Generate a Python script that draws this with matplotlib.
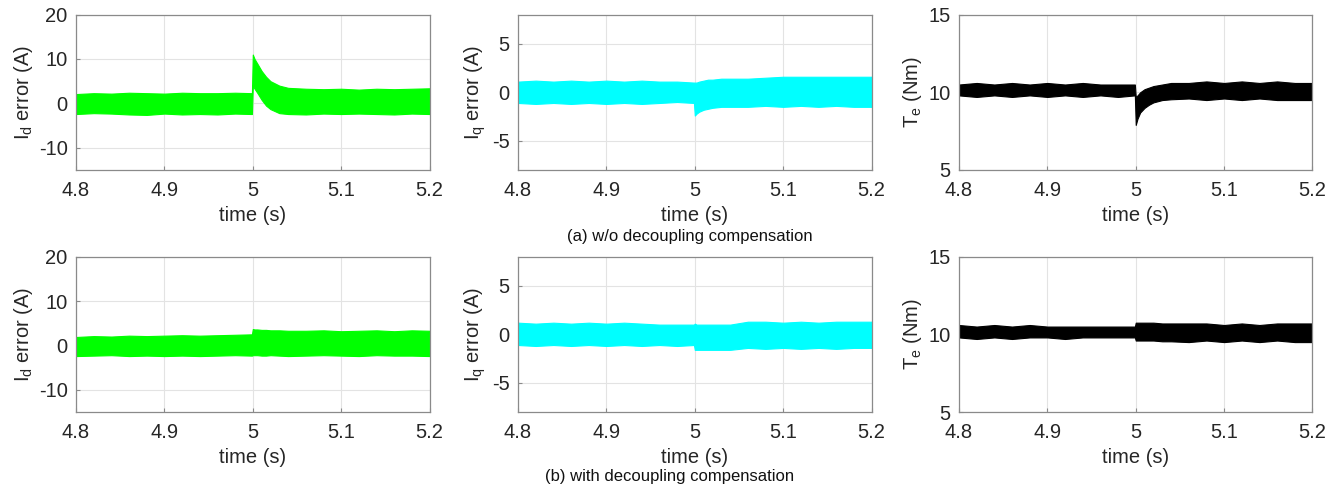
import matplotlib
matplotlib.use("Agg")
import matplotlib.pyplot as plt

plt.rcParams['font.family'] = ['Liberation Sans', 'DejaVu Sans']
plt.rcParams['mathtext.fontset'] = 'custom'
plt.rcParams['mathtext.rm'] = 'Liberation Sans'
plt.rcParams['mathtext.it'] = 'Liberation Sans'
plt.rcParams['axes.unicode_minus'] = False

# time breakpoints (s) of the band envelopes
T = [4.800, 4.820, 4.840, 4.860, 4.880, 4.900, 4.920, 4.940, 4.960, 4.980, 4.999,
     5.000, 5.002, 5.005, 5.010, 5.015, 5.020, 5.030, 5.040, 5.060, 5.080,
     5.100, 5.120, 5.140, 5.160, 5.180, 5.200]

# (a) w/o decoupling compensation: upper / lower envelopes
id_a_hi = [2.1, 2.3, 2.2, 2.4, 2.3, 2.2, 2.4, 2.3, 2.3, 2.4, 2.3, 11.0, 10.0, 9.0, 7.3, 6.0,
           5.0, 4.0, 3.5, 3.3, 3.2, 3.3, 3.1, 3.3, 3.2, 3.3, 3.4]
id_a_lo = [-2.4, -2.2, -2.3, -2.5, -2.6, -2.3, -2.5, -2.4, -2.5, -2.3, -2.4, 4.0, 3.3, 2.4, 0.8,
           -0.5, -1.3, -2.2, -2.4, -2.5, -2.3, -2.4, -2.3, -2.4, -2.5, -2.3, -2.4]
iq_a_hi = [1.1, 1.2, 1.1, 1.2, 1.1, 1.2, 1.1, 1.2, 1.1, 1.1, 1.0, 1.0, 1.0, 1.1, 1.2, 1.3,
           1.3, 1.4, 1.4, 1.4, 1.5, 1.6, 1.6, 1.6, 1.6, 1.6, 1.6]
iq_a_lo = [-1.1, -1.2, -1.1, -1.2, -1.1, -1.2, -1.1, -1.2, -1.1, -1.0, -1.1, -2.4, -2.2, -2.0,
           -1.8, -1.7, -1.6, -1.5, -1.5, -1.5, -1.4, -1.5, -1.4, -1.5, -1.4, -1.5, -1.5]
te_a_hi = [10.5, 10.6, 10.5, 10.6, 10.5, 10.6, 10.5, 10.6, 10.5, 10.5, 10.5, 9.7, 9.8, 10.0,
           10.2, 10.3, 10.4, 10.5, 10.6, 10.6, 10.7, 10.6, 10.7, 10.6, 10.7, 10.6, 10.6]
te_a_lo = [9.8, 9.7, 9.8, 9.7, 9.8, 9.7, 9.8, 9.7, 9.8, 9.7, 9.8, 7.9, 8.3, 8.7, 9.0, 9.2,
           9.35, 9.5, 9.55, 9.6, 9.5, 9.6, 9.5, 9.6, 9.5, 9.5, 9.5]

# (b) with decoupling compensation
id_b_hi = [1.9, 2.1, 2.0, 2.2, 2.1, 2.2, 2.3, 2.2, 2.3, 2.4, 2.5, 3.7, 3.6, 3.6, 3.5, 3.5,
           3.4, 3.4, 3.3, 3.3, 3.4, 3.2, 3.3, 3.4, 3.2, 3.4, 3.3]
id_b_lo = [-2.4, -2.3, -2.2, -2.4, -2.3, -2.4, -2.3, -2.4, -2.3, -2.2, -2.3, -2.2, -2.2, -2.2,
           -2.3, -2.3, -2.2, -2.3, -2.4, -2.3, -2.2, -2.3, -2.4, -2.2, -2.3, -2.3, -2.4]
iq_b_hi = [1.2, 1.1, 1.2, 1.1, 1.2, 1.1, 1.2, 1.1, 1.0, 1.0, 1.0, 1.1, 1.0, 1.0, 1.0, 1.0,
           1.0, 1.0, 1.0, 1.3, 1.3, 1.2, 1.3, 1.2, 1.3, 1.3, 1.3]
iq_b_lo = [-1.1, -1.2, -1.1, -1.2, -1.1, -1.2, -1.1, -1.2, -1.1, -1.2, -1.1, -1.6, -1.6, -1.6,
           -1.6, -1.6, -1.6, -1.6, -1.6, -1.4, -1.5, -1.4, -1.5, -1.4, -1.5, -1.4, -1.4]
te_b_hi = [10.6, 10.5, 10.6, 10.5, 10.6, 10.5, 10.5, 10.5, 10.5, 10.5, 10.5, 10.75, 10.75, 10.75,
           10.75, 10.75, 10.75, 10.7, 10.7, 10.7, 10.7, 10.6, 10.7, 10.6, 10.7, 10.7, 10.7]
te_b_lo = [9.8, 9.7, 9.8, 9.7, 9.8, 9.8, 9.7, 9.8, 9.8, 9.8, 9.8, 9.6, 9.6, 9.6, 9.6, 9.6,
           9.6, 9.55, 9.55, 9.5, 9.6, 9.5, 9.6, 9.5, 9.6, 9.5, 9.5]

xticks = [4.8, 4.9, 5.0, 5.1, 5.2]
xticklabels = ['4.8', '4.9', '5', '5.1', '5.2']
ylabels = [r'I$_\mathregular{d}$ error (A)', r'I$_\mathregular{q}$ error (A)', r'T$_\mathregular{e}$ (Nm)']
ylims = [(-15, 20), (-8, 8), (5, 15)]
yticks = [[-10, 0, 10, 20], [-5, 0, 5], [5, 10, 15]]
colors = ['#00ff00', '#00ffff', '#000000']
captions = ['(a) w/o decoupling compensation', '(b) with decoupling compensation']

rows = [[(id_a_hi, id_a_lo), (iq_a_hi, iq_a_lo), (te_a_hi, te_a_lo)],
        [(id_b_hi, id_b_lo), (iq_b_hi, iq_b_lo), (te_b_hi, te_b_lo)]]

fig = plt.figure(figsize=(13.39, 4.87), dpi=100)
lefts = [0.0568, 0.3869, 0.7162]
bottoms = [0.651, 0.154]
w, h = 0.2640, 0.319

for r, row in enumerate(rows):
    for c, (hi, lo) in enumerate(row):
        ax = fig.add_axes([lefts[c], bottoms[r], w, h])
        ax.fill_between(T, lo, hi, color=colors[c], linewidth=0.8, edgecolor=colors[c])
        ax.set_xlim(4.8, 5.2)
        ax.set_ylim(*ylims[c])
        ax.set_xticks(xticks)
        ax.set_xticklabels(xticklabels)
        ax.set_yticks(yticks[c])
        ax.grid(True, color='#e3e3e3', linewidth=0.8)
        ax.set_axisbelow(True)
        for s in ax.spines.values():
            s.set_color('#8a8a8a')
            s.set_linewidth(0.9)
        ax.tick_params(direction='in', length=3, color='#8a8a8a',
                       labelsize=14.5, labelcolor='#262626')
        ax.tick_params(axis='x', pad=8)
        ax.tick_params(axis='y', pad=6)
        ax.set_xlabel('time (s)', fontsize=14.5, color='#262626', labelpad=4)
        ax.set_ylabel(ylabels[c], fontsize=14.5, color='#262626', labelpad=3)

fig.text(0.515, 0.515, captions[0], ha='center', va='center', fontsize=12, color='#111111')
fig.text(0.500, 0.022, captions[1], ha='center', va='center', fontsize=12, color='#111111')

fig.savefig('out.png', dpi=100)
